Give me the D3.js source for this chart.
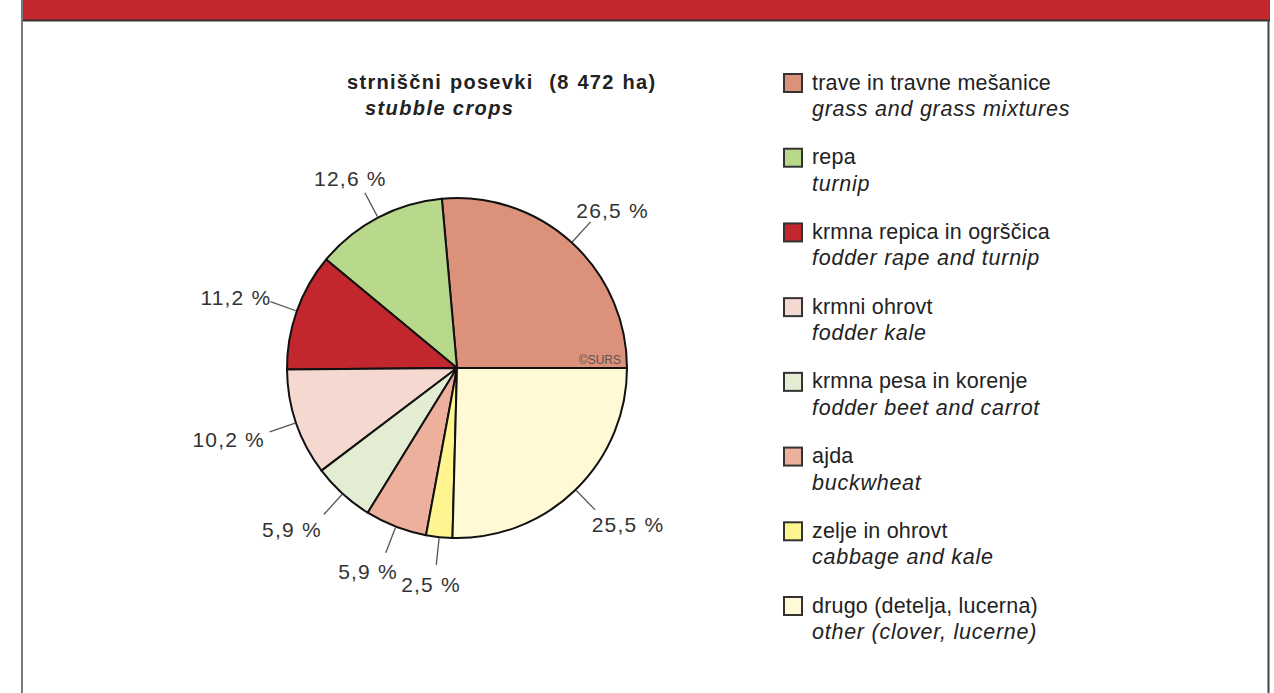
<!DOCTYPE html>
<html>
<head>
<meta charset="utf-8">
<script src="https://cdn.jsdelivr.net/npm/d3@7"></script>
<style>
  body { margin: 0; background: #fff; }
  text { font-family: "Liberation Sans", Arial, sans-serif; }
</style>
</head>
<body>
<div id="chart"></div>
<script>
// data
var categoriesSl = ["trave in travne mešanice", "repa", "krmna repica in ogrščica", "krmni ohrovt",
                    "krmna pesa in korenje", "ajda", "zelje in ohrovt", "drugo (detelja, lucerna)"];
var categoriesEn = ["grass and grass mixtures", "turnip", "fodder rape and turnip", "fodder kale",
                    "fodder beet and carrot", "buckwheat", "cabbage and kale", "other (clover, lucerne)"];
var shares = [26.5, 12.6, 11.2, 10.2, 5.9, 5.9, 2.5, 25.5];
var colors = ["#db917a", "#b8d98c", "#c1272d", "#f5d9d0", "#e2edd3", "#edb09c", "#fef590", "#fff9d6"];

var w = 1274, h = 693;
var cx = 457, cy = 368, r = 170;

var svg = d3.select("#chart").append("svg")
            .attr("width", w)
            .attr("height", h);

// frame and red header strip
svg.append("rect").attr("x", 22).attr("y", 0).attr("width", 1248).attr("height", 20).attr("fill", "#c1272d");
svg.append("line").attr("x1", 22).attr("x2", 1270).attr("y1", 20.5).attr("y2", 20.5)
   .attr("stroke", "#333").attr("stroke-width", 2);
svg.append("line").attr("x1", 22).attr("x2", 22).attr("y1", 0).attr("y2", h)
   .attr("stroke", "#777").attr("stroke-width", 2);
svg.append("line").attr("x1", 1268.5).attr("x2", 1268.5).attr("y1", 20).attr("y2", h)
   .attr("stroke", "#444").attr("stroke-width", 2);

// title
svg.append("text").attr("x", 347).attr("y", 89)
   .attr("font-size", 20).attr("font-weight", "bold").attr("fill", "#222")
   .attr("letter-spacing", 1.3).attr("word-spacing", 1)
   .attr("xml:space", "preserve")
   .text("strniščni posevki  (8 472 ha)");
svg.append("text").attr("x", 365).attr("y", 115)
   .attr("font-size", 20).attr("font-weight", "bold").attr("font-style", "italic").attr("fill", "#222")
   .attr("letter-spacing", 1.4)
   .text("stubble crops");

// pie, drawn counter-clockwise in legend order
var pie = d3.pie().value(function(d) { return d; }).sort(null)
            .startAngle(Math.PI / 2).endAngle(Math.PI / 2 - 2 * Math.PI);
var arcs = pie(shares);
var arc = d3.arc().innerRadius(0).outerRadius(r);

var g = svg.append("g").attr("transform", "translate(" + cx + "," + cy + ")");

g.selectAll("path")
 .data(arcs)
 .enter()
 .append("path")
 .attr("d", arc)
 .attr("fill", function(d, i) { return colors[i]; })
 .attr("stroke", "#111")
 .attr("stroke-width", 2)
 .attr("stroke-linejoin", "round");

function mid(d) { return (d.startAngle + d.endAngle) / 2; }

g.selectAll("line.leader")
 .data(arcs)
 .enter()
 .append("line")
 .attr("class", "leader")
 .attr("x1", function(d) { return Math.sin(mid(d)) * (r + 1); })
 .attr("y1", function(d) { return -Math.cos(mid(d)) * (r + 1); })
 .attr("x2", function(d) { return Math.sin(mid(d)) * (r + 28); })
 .attr("y2", function(d) { return -Math.cos(mid(d)) * (r + 28); })
 .attr("stroke", "#555")
 .attr("stroke-width", 1.3);

var fmt = function(v) { return d3.format(".1f")(v).replace(".", ",") + " %"; };

// labels sit on an ellipse round the pie
g.selectAll("text.lbl")
 .data(arcs)
 .enter()
 .append("text")
 .attr("class", "lbl")
 .attr("x", function(d) { var a = mid(d); return Math.sin(a) * 238 - 10 * Math.sin(a) * Math.cos(a); })
 .attr("y", function(d) { return -Math.cos(mid(d)) * 216 + 2; })
 .attr("dy", "0.36em")
 .attr("text-anchor", "middle")
 .attr("font-size", 21)
 .attr("letter-spacing", 1.2)
 .attr("fill", "#333")
 .text(function(d) { return fmt(d.data); });

g.append("text").attr("x", 164).attr("y", -4)
 .attr("text-anchor", "end").attr("font-size", 12).attr("fill", "#555")
 .text("©SURS");

// legend
var legY = d3.scaleLinear().domain([0, categoriesSl.length - 1]).range([73, 596]);

var leg = svg.selectAll("g.leg")
             .data(categoriesSl)
             .enter()
             .append("g")
             .attr("class", "leg")
             .attr("transform", function(d, i) { return "translate(783," + legY(i) + ")"; });

leg.append("rect")
   .attr("x", 1).attr("y", 1).attr("width", 18).attr("height", 18)
   .attr("fill", function(d, i) { return colors[i]; })
   .attr("stroke", "#333").attr("stroke-width", 2);

leg.append("text")
   .attr("x", 29).attr("y", 16.5)
   .attr("font-size", 21.5).attr("letter-spacing", 0.2).attr("fill", "#222")
   .text(function(d) { return d; });

leg.append("text")
   .attr("x", 29).attr("y", 43)
   .attr("font-size", 21.5).attr("font-style", "italic").attr("letter-spacing", 0.75).attr("fill", "#222")
   .text(function(d, i) { return categoriesEn[i]; });
</script>
</body>
</html>
